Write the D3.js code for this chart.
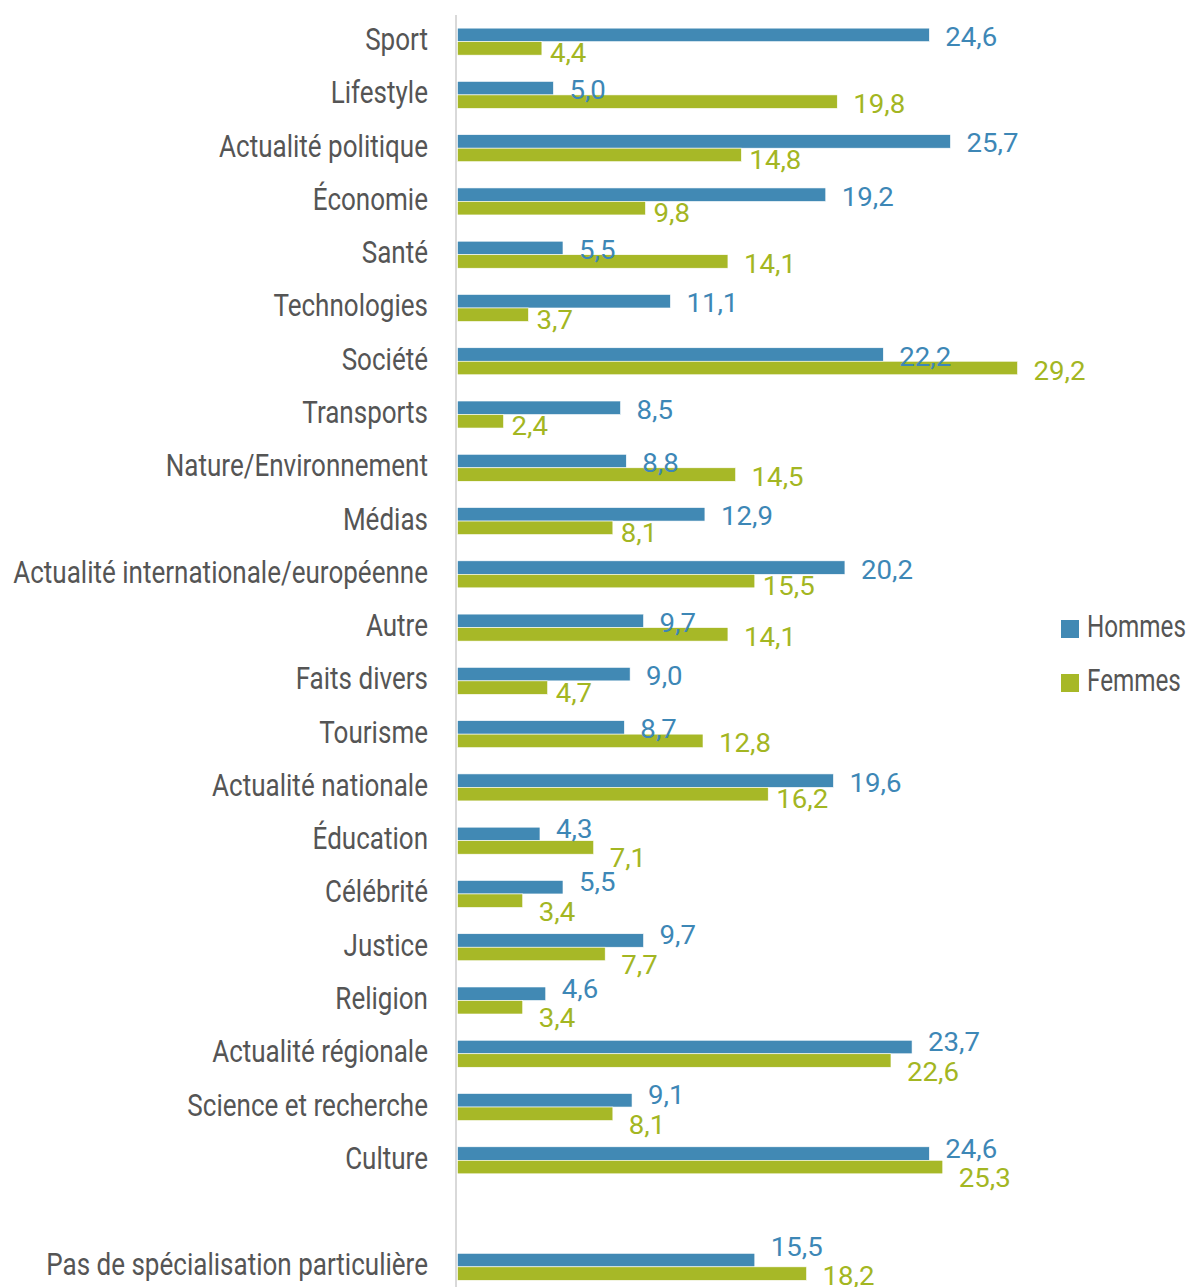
<!DOCTYPE html>
<html>
<head>
<meta charset="utf-8">
<script src="https://cdn.jsdelivr.net/npm/d3@7"></script>
<style>
  body { margin: 0; background: #fff; }
  svg { display: block; }
  text { font-family: Roboto, "Noto Sans", sans-serif; }
</style>
</head>
<body>
<svg id="chart" width="1189" height="1287"></svg>
<script>
var categories = ["Sport", "Lifestyle", "Actualité politique", "Économie", "Santé", "Technologies",
    "Société", "Transports", "Nature/Environnement", "Médias", "Actualité internationale/européenne",
    "Autre", "Faits divers", "Tourisme", "Actualité nationale", "Éducation", "Célébrité", "Justice",
    "Religion", "Actualité régionale", "Science et recherche", "Culture", "",
    "Pas de spécialisation particulière"];
var hommes = [24.6, 5.0, 25.7, 19.2, 5.5, 11.1, 22.2, 8.5, 8.8, 12.9, 20.2, 9.7, 9.0, 8.7, 19.6,
    4.3, 5.5, 9.7, 4.6, 23.7, 9.1, 24.6, null, 15.5];
var femmes = [4.4, 19.8, 14.8, 9.8, 14.1, 3.7, 29.2, 2.4, 14.5, 8.1, 15.5, 14.1, 4.7, 12.8, 16.2,
    7.1, 3.4, 7.7, 3.4, 22.6, 8.1, 25.3, null, 18.2];
var seriesNames = ["Hommes", "Femmes"];
var colors = ["#4189b4", "#a7b827"];
var labelColors = ["#3d87b6", "#a3b622"];

var W = 1189, H = 1287;
var svg = d3.select("#chart");

// keys so the blank row gets its own band
var keys = categories.map((c, i) => i);

var y = d3.scaleBand().domain(keys).range([15, 15 + 24 * 53.27]).padding(0);
var x = d3.scaleLinear().domain([0, 30]).range([457.5, 457.5 + 30 * 19.18]);
var barH = 13.5,
    capH = 18,   // digit height of value labels
    gap = 16;

function fmt(v) { return d3.format(".1f")(v).replace(".", ","); }
function mid(i) { return y(i) + y.bandwidth() / 2; }

// squeeze a text selection horizontally (narrow DIN-like look)
function squeeze(sel, k) {
    sel.each(function() {
        var t = d3.select(this);
        var tx = +t.attr("x"), ty = +t.attr("y");
        t.attr("x", 0).attr("y", 0)
         .attr("transform", "translate(" + tx + "," + ty + ") scale(" + k + ",1)");
    });
}

// rough imitation of the spreadsheet's label collision handling
function labelPos(i) {
    var hx = x(hommes[i]) + gap, fx = x(femmes[i]) + gap,
        hy = mid(i) - barH / 2 + 2, fy = mid(i) + barH / 2 + 2.5;
    if (Math.abs(hx - fx) < 55) {           // labels run into each other
        hy = mid(i) - barH / 2 - 5;
        fy = mid(i) + barH / 2 + 11;
        var over = fy + capH / 2 - (H - 2);
        if (over > 0) { hy -= over; fy -= over; }
    } else if (x(hommes[i]) > fx) {         // blue bar runs over the green label
        fx = x(femmes[i]) + 8;
        fy = mid(i) + barH / 2 + 5;
    }
    return {hx: hx, hy: hy, fx: fx, fy: fy};
}

// vertical axis line
svg.append("line")
    .attr("x1", 456).attr("x2", 456)
    .attr("y1", 15).attr("y2", H)
    .attr("stroke", "#d9d9d9")
    .attr("stroke-width", 2);

var rowKeys = keys.filter(i => categories[i] !== "");

var catLabels = svg.selectAll(".cat")
    .data(rowKeys)
    .enter().append("text")
    .attr("class", "cat")
    .attr("x", 428)
    .attr("y", i => mid(i) + 8.5)
    .attr("text-anchor", "end")
    .attr("font-size", 31)
    .attr("fill", "#555")
    .text(i => categories[i]);

var longest = catLabels.filter(i => categories[i] === "Actualité internationale/européenne");
var kCat = 415 / longest.node().getComputedTextLength();
squeeze(catLabels, kCat);

[hommes, femmes].forEach(function(vals, s) {
    svg.selectAll(".bar" + s)
        .data(rowKeys)
        .enter().append("rect")
        .attr("class", "bar" + s)
        .attr("x", x(0))
        .attr("y", i => s === 0 ? mid(i) - barH : mid(i))
        .attr("width", i => x(vals[i]) - x(0))
        .attr("height", barH)
        .attr("fill", colors[s])
        .attr("stroke", "#fff")
        .attr("stroke-width", 0.6);
});

var valLabels = [];
[hommes, femmes].forEach(function(vals, s) {
    var lab = svg.selectAll(".val" + s)
        .data(rowKeys)
        .enter().append("text")
        .attr("class", "val" + s)
        .attr("x", i => s === 0 ? labelPos(i).hx : labelPos(i).fx)
        .attr("y", i => (s === 0 ? labelPos(i).hy : labelPos(i).fy) + capH / 2)
        .attr("font-size", 25)
        .attr("fill", labelColors[s])
        .text(i => fmt(vals[i]));
    valLabels.push(lab);
});

var ref = valLabels[0].filter(i => i === 0);
var kVal = 52 / ref.node().getComputedTextLength();
valLabels.forEach(l => squeeze(l, kVal));

// legend
var legend = svg.selectAll(".legend")
    .data(seriesNames)
    .enter().append("g")
    .attr("class", "legend")
    .attr("transform", (d, i) => "translate(1061," + (620 + i * 54) + ")");

legend.append("rect")
    .attr("width", 18).attr("height", 18)
    .attr("fill", (d, i) => colors[i]);

var legText = legend.append("text")
    .attr("x", 26).attr("y", 17)
    .attr("font-size", 31)
    .attr("fill", "#555")
    .text(d => d);
var kLeg = 99 / legText.filter(d => d === "Hommes").node().getComputedTextLength();
squeeze(legText, kLeg);
</script>
</body>
</html>
